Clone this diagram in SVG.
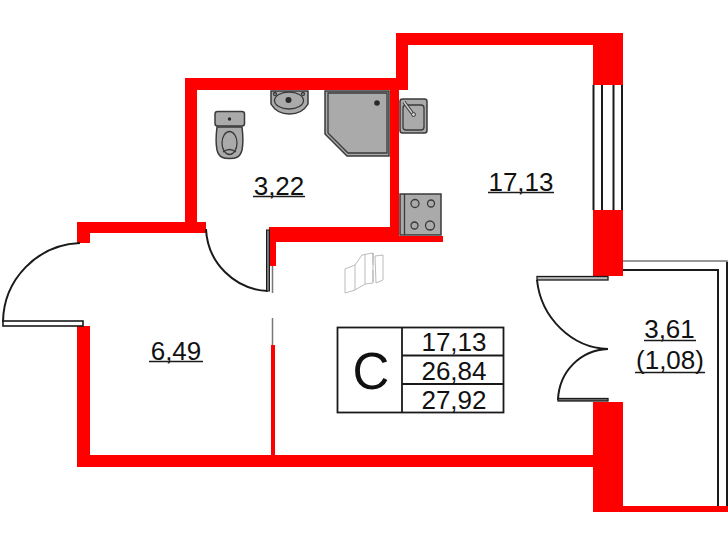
<svg xmlns="http://www.w3.org/2000/svg" width="728" height="546" viewBox="0 0 728 546">
<style>
.wall{fill:#ff0000}
.ln{fill:none;stroke:#1a1a1a;stroke-width:2}
.gl{fill:none;stroke:#777;stroke-width:1.5}
.fx{fill:#aaaaaa;stroke:#3a3a3a;stroke-width:1.5}
.fxl{fill:none;stroke:#3a3a3a;stroke-width:1.3}
.dk{fill:#2a2a2a}
.th{fill:none;stroke:#aaa;stroke-width:.8}
text{font-family:"Liberation Sans",Arial,sans-serif;fill:#111}
.lb{font-size:26px;text-anchor:middle}
.tb{font-size:26px;text-anchor:middle}
.ul{stroke:#1a1a1a;stroke-width:1.3}
</style>
<rect width="728" height="546" fill="#fff"/>
<g id="walls">
<path class="wall" d="M396 33H623V85H593V45H408V90H399V240H390V90H197V222H206V233H90V243H77V222H185V78H396Z"/>
<path class="wall" d="M269 227H390V236H443V242H276V266H269Z"/>
<rect class="wall" x="593" y="210" width="30" height="66"/>
<path class="wall" d="M77 326H90V455H593V402H623V506H728V512H593V467H77Z"/>
<rect class="wall" x="271" y="345" width="4" height="110"/>
</g>
<g id="window">
<path class="ln" d="M593.5 85V210M602 85V210M613.5 85V210M622 85V210"/>
</g>
<g id="balcony">
<path class="gl" d="M623 261H727V300" />
<path class="ln" d="M727 262V506M623 270H718V506"/>
</g>
<g id="doors">
<path class="ln" d="M3 322A80 80 0 0 1 80 243"/>
<rect x="3" y="321" width="80" height="5" fill="#fff" stroke="#1a1a1a" stroke-width="1.6"/>
<path class="ln" d="M206 229A65 65 0 0 0 268 291"/>
<rect x="266.500" y="230" width="3" height="61" fill="#777" stroke="#1a1a1a" stroke-width="1"/>
<path class="gl" d="M272.500 266V293M272.500 318V345"/>
<rect x="537" y="276.500" width="71" height="3.500" fill="#bbb" stroke="#1a1a1a" stroke-width="1.300"/>
<path class="ln" d="M537 280C541 318 572 348 608 349"/>
<path class="ln" d="M608 349C580 350 559 372 558 400"/>
<rect x="558" y="398.500" width="50" height="2.500" fill="#777" stroke="#1a1a1a" stroke-width="1.300"/>
</g>
<g id="toilet">
<rect class="fx" x="215" y="111.500" width="29.500" height="14.500" rx="2.500"/>
<circle class="dk" cx="229.500" cy="119" r="1.700"/>
<path class="fx" d="M217 127H242C243 135 243 145 242 150C240 158 235 158.500 229.500 158.500C224 158.500 219 158 217 150C216 145 216 135 217 127Z"/>
<ellipse class="fxl" cx="229.500" cy="143" rx="7.500" ry="11.500"/>
<path class="fxl" d="M223 152Q229.500 147 236 152"/>
</g>
<g id="basin">
<path class="fx" d="M271 91H308V104C304 111 297 114 289.500 114C282 114 275 111 271 104Z"/>
<ellipse class="fxl" cx="289" cy="100.500" rx="14.500" ry="8.500"/>
<circle class="dk" cx="288.500" cy="100" r="3"/>
<circle class="fxl" cx="275" cy="94" r="1.500"/>
<circle class="fxl" cx="303" cy="94" r="1.500"/>
</g>
<g id="shower">
<path class="fx" stroke-width="2" d="M325 91H389V156H347L325 134Z"/>
<path class="fxl" d="M328 93H387V153H348L328 133Z"/>
<circle class="dk" cx="377" cy="103" r="2.800"/>
</g>
<g id="kitchen-sink">
<rect class="fx" x="400" y="99" width="27" height="34" rx="2.500"/>
<rect class="fxl" x="403" y="105" width="21" height="25" rx="3"/>
<path d="M404 102L412 113" stroke="#3a3a3a" stroke-width="3.500" fill="none"/>
<path d="M404 102L412 113" stroke="#ccc" stroke-width="1.500" fill="none"/>
<circle cx="413.500" cy="114.500" r="2" fill="#ccc" stroke="#3a3a3a"/>
</g>
<g id="stove">
<rect class="fx" x="400" y="194" width="41" height="41"/>
<path class="fxl" d="M404.500 194V235"/>
<circle class="fxl" cx="415" cy="203.500" r="4"/>
<circle class="fxl" cx="431" cy="203.500" r="3.500"/>
<circle class="fxl" cx="414.500" cy="225.500" r="3.500"/>
<circle class="fxl" cx="430" cy="225.500" r="4.500"/>
</g>
<g id="sketch">
<path class="th" d="M345 269L355 265V290L345 293ZM355 265L362 255L373 253V283L365 284L355 290M365 255V284M375 256L383 255V280L376 283ZM373 253V265M373 270V282"/>
</g>
<g id="room-322"><text class="lb" x="279" y="195">3,22</text><path class="ul" d="M253 196.500H305"/></g>
<g id="room-1713"><text class="lb" x="521" y="191">17,13</text><path class="ul" d="M488 192.500H554"/></g>
<g id="room-649"><text class="lb" x="176" y="360">6,49</text><path class="ul" d="M149 361.500H203"/></g>
<g id="room-361">
<text class="lb" x="669.500" y="338">3,61</text><path class="ul" d="M644 340.500H696"/>
<text class="lb" x="670" y="369">(1,08)</text><path class="ul" d="M635 372.500H705"/>
</g>
<g id="table">
<rect x="337.500" y="327.500" width="166" height="85" fill="#fff" stroke="#1a1a1a" stroke-width="1.800"/>
<path d="M402 327.500V412.500M402 355.500H503.500M402 384H503.500" fill="none" stroke="#1a1a1a" stroke-width="1.800"/>
<text x="371" y="389" font-size="51" text-anchor="middle">C</text>
<text class="tb" x="454" y="351">17,13</text>
<text class="tb" x="454" y="380">26,84</text>
<text class="tb" x="454" y="409">27,92</text>
</g>
</svg>
